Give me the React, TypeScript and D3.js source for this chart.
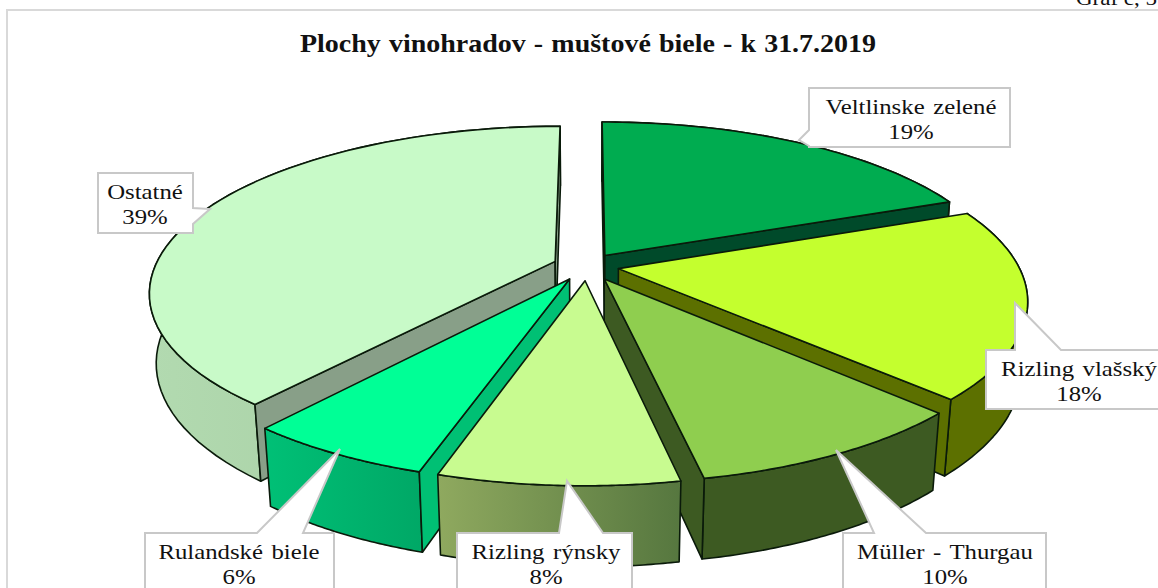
import React from "react";
import * as d3 from "d3";

const categories = ["Veltlinske zelené", "Rizling vlašský", "Müller - Thurgau", "Rizling rýnsky", "Rulandské biele", "Ostatné"];
const shares = [19.1, 18.3, 9.5, 7.9, 6.2, 39.0];
const topColors = ["#00ac50", "#c4ff2e", "#8fce4f", "#c8fb90", "#00ff96", "#c8fac8"];
const radialWallColors = ["#004a2a", "#5c7000", "#3d5a22", "#5c7a44", "#00c074", "#889f88"];
const outerWallFrom = ["#00492a", "#5c7000", "#3d5a22", "#8fa95f", "#00c076", "#b2dab0"];
const outerWallTo = ["#00492a", "#5c7000", "#3d5a22", "#56773f", "#00a866", "#a2c99e"];
const explosion = [0.08, 0.08, 0.09, 0.09, 0.09, 0.085];
const paintOrder = [0, 5, 1, 4, 2, 3];
const titleText = "Plochy vinohradov - muštové biele - k 31.7.2019";
const cornerText = "Graf č, 5";

// camera model for the tilted pie
const cx = 587, cy = 266, unit = 400, tilt = (23.8 * Math.PI) / 180, camDist = 5.0, thickness = 0.19;
const project = (X: number, Y: number, Z: number): [number, number] => {
  const den = 1 - (Y * Math.cos(tilt) + Z * Math.sin(tilt)) / camDist;
  return [cx + (unit * X) / den, cy + (unit * (Y * Math.sin(tilt) - Z * Math.cos(tilt))) / den];
};

const labelLayout = [
  { x: 809, y: 88, w: 201, h: 59, side: "left", b0: 130, b1: 146, tip: [799, 140], cx: 911, sp: 2 },
  { x: 986, y: 350, w: 200, h: 59, side: "top", b0: 1015, b1: 1061, tip: [1015, 303], cx: 1079, sp: 2 },
  { x: 843, y: 533, w: 203, h: 70, side: "top", b0: 874, b1: 926, tip: [836, 450], cx: 945, sp: 2 },
  { x: 457, y: 533, w: 175, h: 70, side: "top", b0: 559, b1: 603, tip: [567, 481], cx: 546, sp: 2 },
  { x: 145, y: 533, w: 189, h: 70, side: "top", b0: 257, b1: 303, tip: [340, 449], cx: 239, sp: 2 },
  { x: 98, y: 173, w: 95, h: 60, side: "right", b0: 208, b1: 224, tip: [210, 209], cx: 145, sp: 0 },
];

const line = d3.line<[number, number]>();
const shoelace = (p: [number, number][]) =>
  d3.sum(p, (a, i) => {
    const b = p[(i + 1) % p.length];
    return a[0] * b[1] - b[0] * a[1];
  });

const arcs = d3.pie<number>().sort(null).value((d) => d)(shares);

function sliceGeometry(i: number) {
  const { startAngle: a0, endAngle: a1 } = arcs[i];
  const mid = (a0 + a1) / 2;
  const ox = Math.sin(mid) * explosion[i];
  const oy = -Math.cos(mid) * explosion[i];
  const angles = d3.range(0, 61).map((k) => a0 + ((a1 - a0) * k) / 60);
  const rim = (z: number) => angles.map((a) => project(ox + Math.sin(a), oy - Math.cos(a), z));
  const apex = (z: number) => project(ox, oy, z);
  const topRim = rim(0);
  const botRim = rim(-thickness);
  const top = [apex(0), ...topRim];
  const outer = [...topRim, ...[...botRim].reverse()];
  const startWall = [apex(0), topRim[0], botRim[0], apex(-thickness)];
  const endWall = [apex(0), topRim[60], botRim[60], apex(-thickness)];
  return { top, outer, startWall, endWall };
}

function calloutOutline(l: (typeof labelLayout)[number]): [number, number][] {
  const x1 = l.x + l.w, y1 = l.y + l.h;
  const tip = l.tip as [number, number];
  if (l.side === "top")
    return [[l.x, l.y], [l.b0, l.y], tip, [l.b1, l.y], [x1, l.y], [x1, y1], [l.x, y1]];
  if (l.side === "left")
    return [[l.x, l.y], [x1, l.y], [x1, y1], [l.x, y1], [l.x, l.b1], tip, [l.x, l.b0]];
  return [[l.x, l.y], [x1, l.y], [x1, l.b0], tip, [x1, l.b1], [x1, y1], [l.x, y1]];
}

const edge = { stroke: "#0a1a0a", strokeWidth: 1.6, strokeLinejoin: "round" as const };

export default function App() {
  return (
    <svg
      width={1158}
      height={588}
      viewBox="0 0 1158 588"
      style={{ position: "absolute", left: 0, top: 0, background: "#fff", fontFamily: "'Liberation Serif', serif" }}
    >
      <defs>
        {categories.map((_, i) => (
          <linearGradient key={i} id={`wall${i}`} x1="0" x2="1" y1="0" y2="0">
            <stop offset="0" stopColor={outerWallFrom[i]} />
            <stop offset="1" stopColor={outerWallTo[i]} />
          </linearGradient>
        ))}
      </defs>
      <path d="M1158,10H7V588" fill="none" stroke="#d9d9d9" strokeWidth={2} />
      <text transform="translate(1076,5) scale(1.15,1)" fontSize={20} fill="#111">{cornerText}</text>
      <text transform="translate(588,52) scale(1.12,1)" textAnchor="middle" fontSize={25} fontWeight="bold" fill="#111" wordSpacing={1}>
        {titleText}
      </text>
      {paintOrder.map((i) => {
        const g = sliceGeometry(i);
        return (
          <g key={i}>
            <path d={line(g.outer) + "Z"} fill={`url(#wall${i})`} {...edge} />
            {shoelace(g.startWall) < 0 && <path d={line(g.startWall) + "Z"} fill={radialWallColors[i]} {...edge} />}
            {shoelace(g.endWall) > 0 && <path d={line(g.endWall) + "Z"} fill={radialWallColors[i]} {...edge} />}
            <path d={line(g.top) + "Z"} fill={topColors[i]} {...edge} />
          </g>
        );
      })}
      {categories.map((c, i) => {
        const l = labelLayout[i];
        return (
          <g key={c}>
            <path d={line(calloutOutline(l)) + "Z"} fill="#fff" stroke="#c8c8c8" strokeWidth={2} />
            <text transform={`translate(${l.cx},${l.y + 26}) scale(1.18,1)`} textAnchor="middle" fontSize={21} fill="#111" wordSpacing={l.sp}>{c}</text>
            <text transform={`translate(${l.cx},${l.y + 51}) scale(1.18,1)`} textAnchor="middle" fontSize={21} fill="#111">{Math.round(shares[i])}%</text>
          </g>
        );
      })}
    </svg>
  );
}
